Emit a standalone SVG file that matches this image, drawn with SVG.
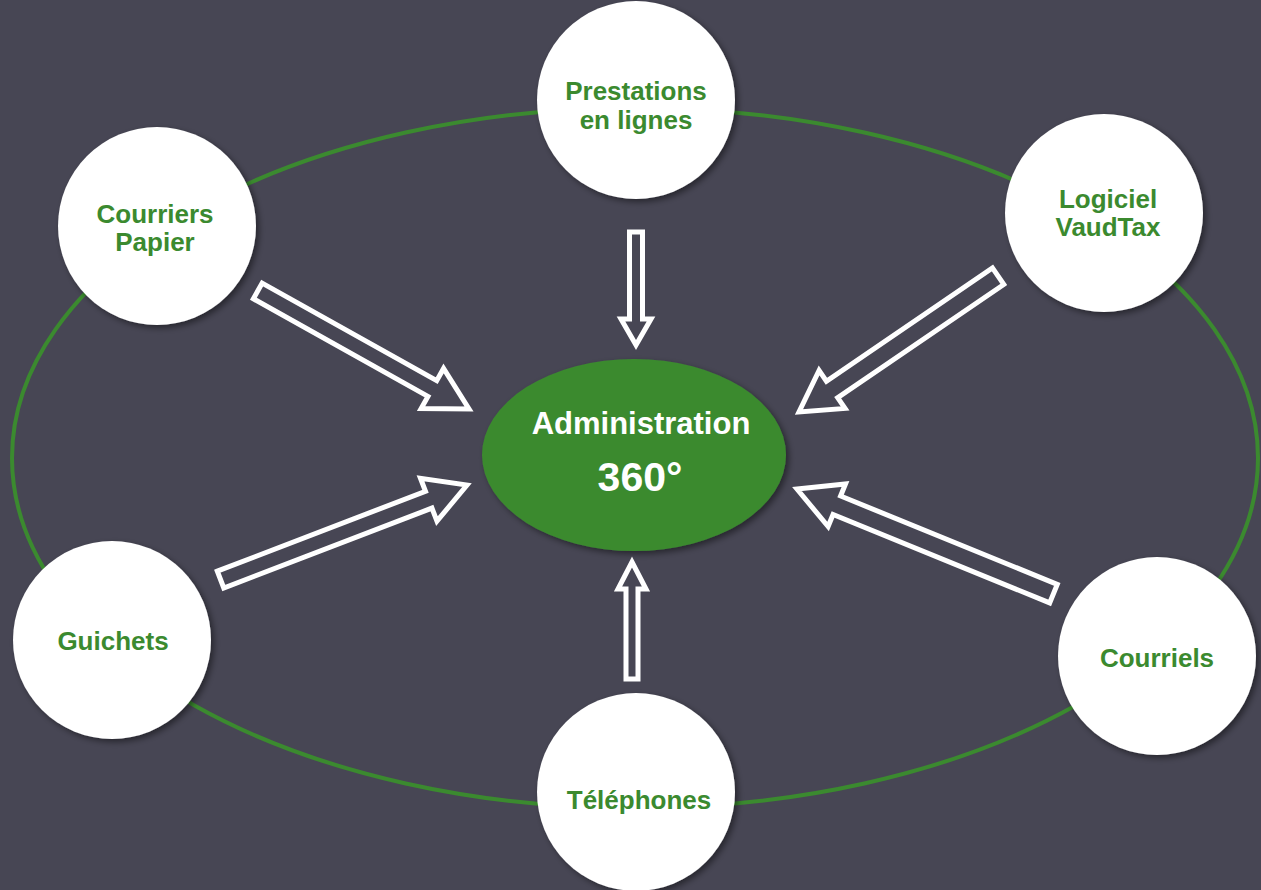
<svg xmlns="http://www.w3.org/2000/svg" width="1261" height="890" viewBox="0 0 1261 890">
<defs>
<filter id="sh" x="-20%" y="-20%" width="140%" height="140%">
<feDropShadow dx="3" dy="3" stdDeviation="3" flood-color="#000" flood-opacity="0.45"/>
</filter>
<style>
.node{fill:#fff;filter:url(#sh)}
.lbl{font-family:"Liberation Sans",Arial,sans-serif;font-weight:bold;font-size:26px;fill:#3b8a2f;text-anchor:middle}
.arr{fill:none;stroke:#fff;stroke-width:5;stroke-linejoin:miter}
.ctr{font-family:"Liberation Sans",Arial,sans-serif;font-weight:bold;fill:#fff;text-anchor:middle}
</style>
</defs>
<rect width="1261" height="890" fill="#474654"/>
<ellipse cx="635" cy="458" rx="623" ry="350" fill="none" stroke="#3b8a2f" stroke-width="4"/>
<g id="connectors">
<polygon class="arr" transform="translate(469,409) rotate(29.2)" points="-242,-9 -42,-9 -42,-23 0,0 -42,23 -42,9 -242,9"/>
<polygon class="arr" transform="translate(799,412) rotate(145.7)" points="-241,-10 -40,-10 -40,-23 0,0 -40,23 -40,10 -241,10"/>
<polygon class="arr" transform="translate(467,485) rotate(-21)" points="-264,-9 -41,-9 -41,-23 0,0 -41,23 -41,9 -264,9"/>
<polygon class="arr" transform="translate(797,489) rotate(-157.8)" points="-277,-10 -43,-10 -43,-23 0,0 -43,23 -43,10 -277,10"/>
<polygon class="arr" transform="translate(636,345) rotate(90)" points="-113,-6.5 -26,-6.5 -26,-15 0,0 -26,15 -26,6.5 -113,6.5"/>
<polygon class="arr" transform="translate(632,562) rotate(-90)" points="-117,-6 -27,-6 -27,-14 0,0 -27,14 -27,6 -117,6"/>
</g>
<g id="center">
<ellipse cx="634" cy="455" rx="152" ry="96" fill="#3b8a2f" filter="url(#sh)"/>
<text class="ctr" x="641" y="434" font-size="31">Administration</text>
<text class="ctr" x="640" y="491" font-size="41">360°</text>
</g>
<g id="prestations">
<circle class="node" cx="636" cy="100" r="99"/>
<text class="lbl" x="636" y="100">Prestations</text>
<text class="lbl" x="636" y="129">en lignes</text>
</g>
<g id="courriers">
<circle class="node" cx="157" cy="226" r="99"/>
<text class="lbl" x="155" y="223">Courriers</text>
<text class="lbl" x="155" y="251">Papier</text>
</g>
<g id="vaudtax">
<circle class="node" cx="1104" cy="213" r="99"/>
<text class="lbl" x="1108" y="208">Logiciel</text>
<text class="lbl" x="1108" y="236">VaudTax</text>
</g>
<g id="guichets">
<circle class="node" cx="112" cy="640" r="99"/>
<text class="lbl" x="113" y="650">Guichets</text>
</g>
<g id="courriels">
<circle class="node" cx="1157" cy="656" r="99"/>
<text class="lbl" x="1157" y="667">Courriels</text>
</g>
<g id="telephones">
<circle class="node" cx="636" cy="792" r="99"/>
<text class="lbl" x="639" y="809">Téléphones</text>
</g>
</svg>
